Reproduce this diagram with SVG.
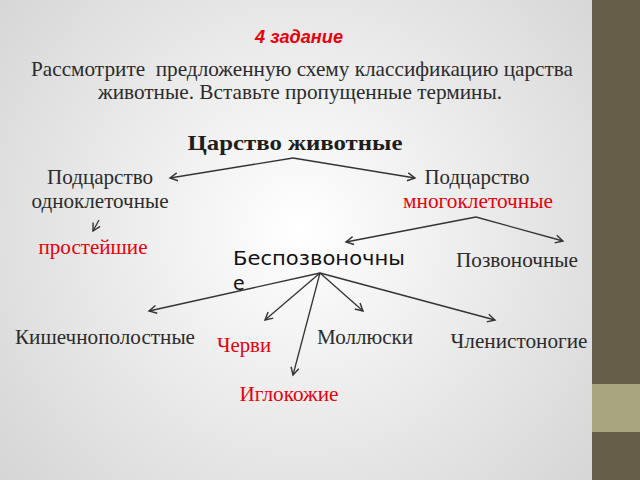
<svg xmlns="http://www.w3.org/2000/svg" width="640" height="480" viewBox="0 0 640 480">
<defs>
<radialGradient id="bg" gradientUnits="userSpaceOnUse" cx="300" cy="230" r="400">
<stop offset="0" stop-color="#FFFFFF"/>
<stop offset="1" stop-color="#D4D4D4"/>
</radialGradient>
<marker id="ah" markerUnits="userSpaceOnUse" markerWidth="12" markerHeight="12" refX="8" refY="4.5" orient="auto" viewBox="0 0 12 9">
<path d="M0.5,0.5 L8,4.5 L0.5,8.5" fill="none" stroke="#333" stroke-width="1.4"/>
</marker>
<style>
.ser{font-family:"Liberation Serif","Times New Roman",serif;font-size:21px;fill:#2b2b2b}
.dv{font-family:"DejaVu Sans",Verdana,sans-serif;font-size:19px;fill:#111}
.red{fill:#E8000B}
.ln{fill:none;stroke:#333;stroke-width:1.3;marker-end:url(#ah)}
</style>
</defs>
<rect x="0" y="0" width="640" height="480" fill="url(#bg)"/>
<g id="sidebar">
<rect x="592" y="0" width="48" height="480" fill="#665E48"/>
<rect x="592" y="384" width="48" height="48" fill="#A8A67E"/>
</g>
<g id="title">
<text x="299" y="43" text-anchor="middle" style="font-family:'Liberation Sans',Arial,sans-serif;font-size:19px;font-weight:bold;font-style:italic;fill:#E8000B" textLength="88" lengthAdjust="spacingAndGlyphs">4 задание</text>
<text class="ser" x="302" y="76" text-anchor="middle" textLength="542" lengthAdjust="spacingAndGlyphs" xml:space="preserve">Рассмотрите  предложенную схему классификацию царства</text>
<text class="ser" x="300" y="99" text-anchor="middle" textLength="404" lengthAdjust="spacingAndGlyphs">животные. Вставьте пропущенные термины.</text>
</g>
<g id="kingdom">
<text x="295" y="150" text-anchor="middle" style="font-family:'Liberation Serif','Times New Roman',serif;font-size:22px;font-weight:bold;fill:#1e1e1e" textLength="215" lengthAdjust="spacingAndGlyphs">Царство животные</text>
</g>
<g id="unicellular">
<text class="ser" x="100" y="184" text-anchor="middle" textLength="106" lengthAdjust="spacingAndGlyphs">Подцарство</text>
<text class="ser" x="100" y="208" text-anchor="middle" textLength="137" lengthAdjust="spacingAndGlyphs">одноклеточные</text>
</g>
<g id="protozoa">
<text class="ser red" x="93" y="254" text-anchor="middle" textLength="109" lengthAdjust="spacingAndGlyphs">простейшие</text>
</g>
<g id="multicellular">
<text class="ser" x="477" y="184" text-anchor="middle" textLength="105" lengthAdjust="spacingAndGlyphs">Подцарство</text>
<text class="ser red" x="478" y="208" text-anchor="middle" textLength="150" lengthAdjust="spacingAndGlyphs">многоклеточные</text>
</g>
<g id="invertebrates">
<text class="dv" x="233" y="265" textLength="172" lengthAdjust="spacingAndGlyphs">Беспозвоночны</text>
<text class="dv" x="233" y="290">е</text>
</g>
<g id="vertebrates">
<text class="ser" x="517" y="267" text-anchor="middle" textLength="122" lengthAdjust="spacingAndGlyphs">Позвоночные</text>
</g>
<g id="coelenterates">
<text class="ser" x="105" y="344" text-anchor="middle" textLength="180" lengthAdjust="spacingAndGlyphs">Кишечнополостные</text>
</g>
<g id="worms">
<text class="ser red" x="244" y="352" text-anchor="middle" textLength="54" lengthAdjust="spacingAndGlyphs">Черви</text>
</g>
<g id="molluscs">
<text class="ser" x="365" y="344" text-anchor="middle" textLength="96" lengthAdjust="spacingAndGlyphs">Моллюски</text>
</g>
<g id="arthropods">
<text class="ser" x="519" y="348" text-anchor="middle" textLength="137" lengthAdjust="spacingAndGlyphs">Членистоногие</text>
</g>
<g id="echinoderms">
<text class="ser red" x="289" y="401" text-anchor="middle" textLength="99" lengthAdjust="spacingAndGlyphs">Иглокожие</text>
</g>
<g id="connectors">
<path class="ln" d="M293,158 L170,178"/>
<path class="ln" d="M293,158 L415,178"/>
<path class="ln" d="M99,220 L93,231"/>
<path class="ln" d="M476,217 L346,242"/>
<path class="ln" d="M476,217 L563,241"/>
<path class="ln" d="M320,273 L149,311"/>
<path class="ln" d="M320,273 L265,320"/>
<path class="ln" d="M320,273 L293,375"/>
<path class="ln" d="M320,273 L363,311"/>
<path class="ln" d="M320,273 L495,320"/>
</g>
</svg>
